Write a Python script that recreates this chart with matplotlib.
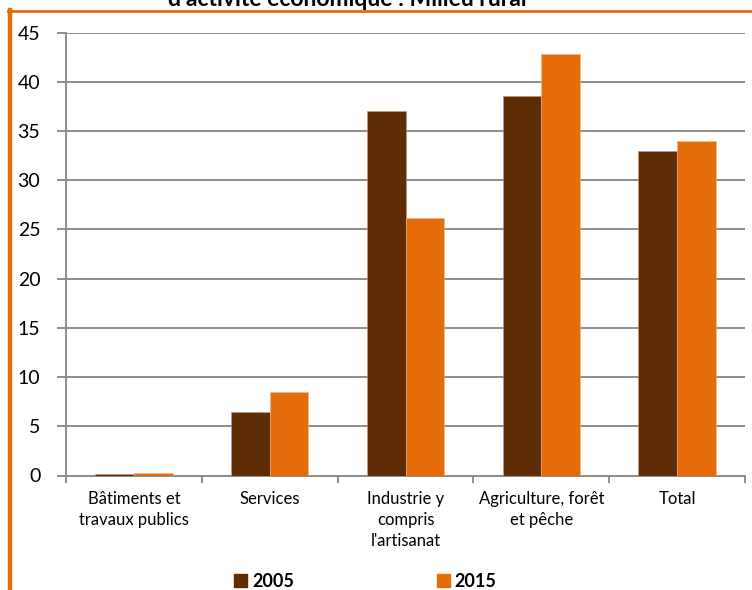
import matplotlib.pyplot as plt
import numpy as np
from matplotlib.lines import Line2D
from matplotlib.patches import Patch

# données (milieu rural)
categories = [
    "Bâtiments et\ntravaux publics",
    "Services",
    "Industrie y\ncompris\nl'artisanat",
    "Agriculture, forêt\net pêche",
    "Total",
]
values_2005 = [0.2, 6.4, 37.0, 38.6, 33.0]
values_2015 = [0.3, 8.5, 26.2, 42.8, 34.0]
series_labels = ["2005", "2015"]
y_ticks = [0, 5, 10, 15, 20, 25, 30, 35, 40, 45]

color_2005 = "#5E2D06"
color_2015 = "#E46C0A"
grid_color = "#8C8C8C"

plt.rcParams["font.family"] = ["Lato", "DejaVu Sans"]

W, H = 752, 590
fig = plt.figure(figsize=(W / 100, H / 100), dpi=100)
ax = fig.add_axes([66 / W, 1 - 475.5 / H, (745 - 66) / W, (475.5 - 32.5) / H])

x = np.arange(len(categories))
bw = 0.285
ax.bar(x - bw / 2, values_2005, bw, color=color_2005, edgecolor="#C89A78", linewidth=0.4, zorder=3)
ax.bar(x + bw / 2, values_2015, bw, color=color_2015, edgecolor="#F3B58A", linewidth=0.4, zorder=3)

ax.set_xlim(-0.5, len(categories) - 0.5)
ax.set_ylim(0, 45)
ax.set_yticks(y_ticks)
ax.yaxis.grid(True, color=grid_color, linewidth=1.4, zorder=0)
ax.set_axisbelow(True)

for side in ["top", "right"]:
    ax.spines[side].set_visible(False)
ax.spines["left"].set_color(grid_color)
ax.spines["bottom"].set_color(grid_color)
ax.spines["left"].set_linewidth(1.4)
ax.spines["bottom"].set_linewidth(1.4)

ax.tick_params(axis="y", length=6.5, width=1.4, color=grid_color, pad=12, labelsize=14)
# graduations de l'axe x entre les catégories
ax.set_xticks(np.arange(-0.5, len(categories), 1.0))
ax.set_xticklabels([])
ax.tick_params(axis="x", length=5, width=1.4, color=grid_color)
ax.set_xticks(x, minor=True)
ax.set_xticklabels(categories, minor=True, fontsize=12, linespacing=1.38)
ax.tick_params(axis="x", which="minor", length=0, pad=11)

# légende en bas
handles = [Patch(color=color_2005), Patch(color=color_2015)]
fig.legend(handles, series_labels, loc="center left", bbox_to_anchor=(225 / W, 1 - 581.5 / H),
           ncol=2, frameon=False, borderpad=0, handlelength=0.72, handleheight=0.72,
           handletextpad=0.28, columnspacing=7.9, prop={"weight": "bold", "size": 13})

# titre coupé en haut de l'image
fig.text(347 / W, 1 - 5.5 / H, "d'activité économique : Milieu rural", ha="center", va="baseline",
         fontsize=16.5, fontweight="bold")

# cadre orange
fig.add_artist(Line2D([8 / W, 1], [1 - 11.3 / H, 1 - 11.3 / H], color=color_2015, linewidth=2,
                      transform=fig.transFigure))
fig.add_artist(Line2D([9.8 / W, 9.8 / W], [0, 1 - 10 / H], color=color_2015, linewidth=3.2,
                      transform=fig.transFigure))

fig.savefig("out.png", dpi=100)
